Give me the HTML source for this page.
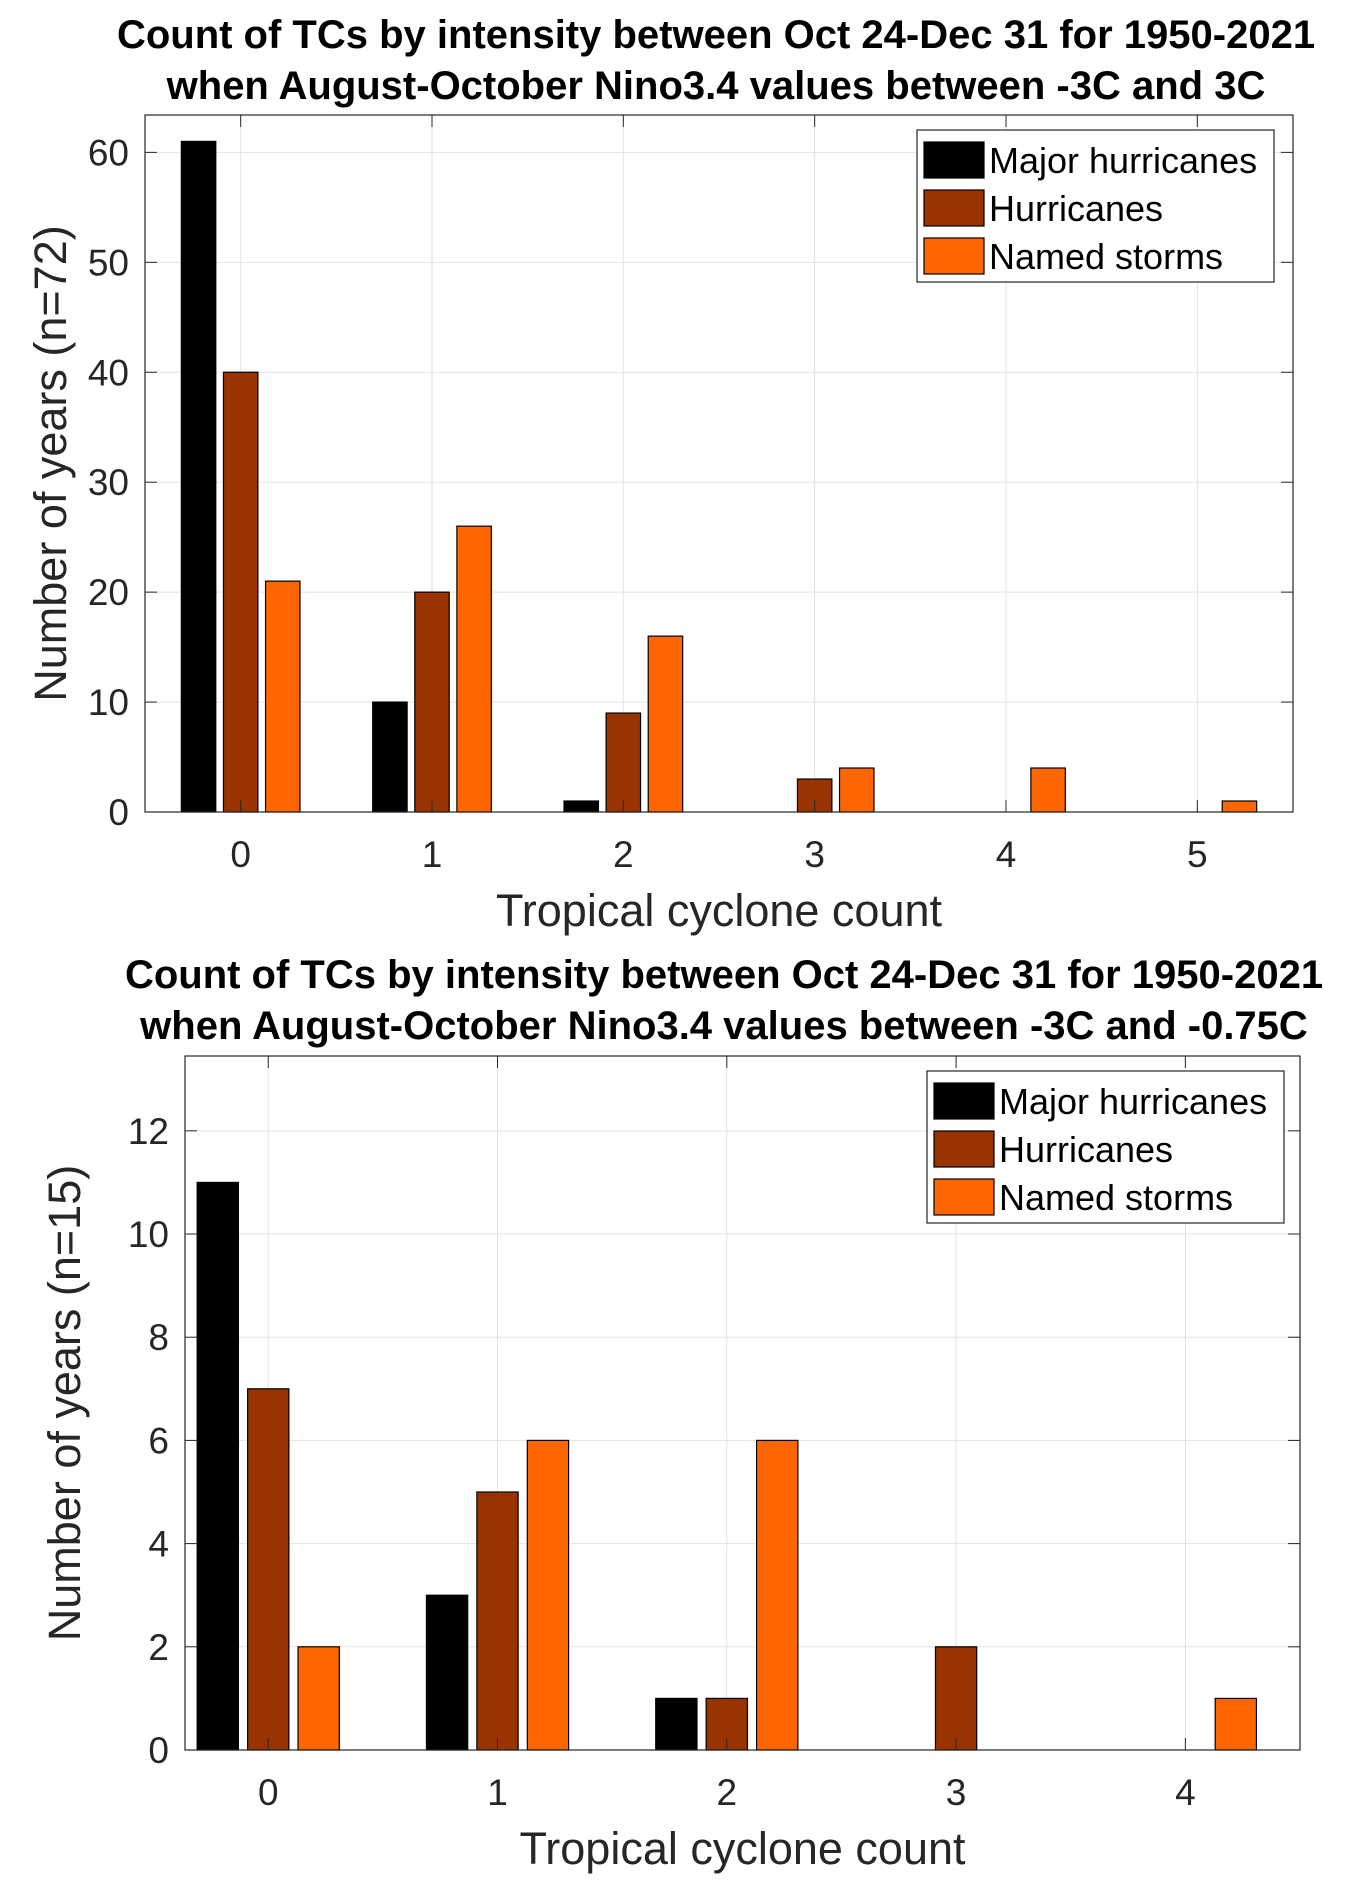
<!DOCTYPE html>
<html><head><meta charset="utf-8"><style>body{margin:0;background:#fff}svg{display:block}text{font-family:"Liberation Sans",Arial,sans-serif;fill:#262626}</style></head>
<body>
<svg id="s" width="1369" height="1897" viewBox="0 0 1369 1897"></svg>
<script>
const cats1 = [0,1,2,3,4,5];
const major1 = [61,10,1,0,0,0];
const hurr1 = [40,20,9,3,0,0];
const named1 = [21,26,16,4,4,1];
const yticks1 = [0,10,20,30,40,50,60];
const cats2 = [0,1,2,3,4];
const major2 = [11,3,1,0,0];
const hurr2 = [7,5,1,2,0];
const named2 = [2,6,6,0,1];
const yticks2 = [0,2,4,6,8,10,12];
const seriesNames = ["Major hurricanes","Hurricanes","Named storms"];
const colors = ["#000000","#993300","#ff6600"];
const NS="http://www.w3.org/2000/svg";
const svg=document.getElementById('s');
function mk(t,a,p){const e=document.createElementNS(NS,t);for(const k in a)e.setAttribute(k,a[k]);(p||svg).appendChild(e);return e;}
function chart(o){
  const g=mk('g',{});
  
  
  const X=v=>o.L+(v-o.x0)/(o.x1-o.x0)*(o.R-o.L);
  const Y=v=>o.B-(v)/(o.ymax)*(o.B-o.T);
  mk('rect',{x:o.L,y:o.T,width:o.R-o.L,height:o.B-o.T,fill:'#fff'},g);
  o.cats.forEach(c=>{mk('line',{x1:X(c),x2:X(c),y1:o.T,y2:o.B,stroke:'#e3e3e3','stroke-width':1},g);});
  o.yt.forEach(v=>{mk('line',{x1:o.L,x2:o.R,y1:Y(v),y2:Y(v),stroke:'#e3e3e3','stroke-width':1},g);});
  const data=[o.major,o.hurr,o.named];
  const off=[-0.22,0,0.22], bw=0.18;
  data.forEach((arr,si)=>{arr.forEach((v,i)=>{
    if(v<=0)return;
    const r=mk('rect',{x:X(o.cats[i]+off[si]-bw/2),y:Y(v),width:X(bw)-X(0),height:Y(0)-Y(v),fill:colors[si],stroke:'#000','stroke-width':1.2},g);
    
    
  });});
  mk('rect',{x:o.L,y:o.T,width:o.R-o.L,height:o.B-o.T,fill:'none',stroke:'#262626','stroke-width':1.2},g);
  o.cats.forEach(c=>{
    mk('line',{x1:X(c),x2:X(c),y1:o.B,y2:o.B-12,stroke:'#262626'},g);
    mk('line',{x1:X(c),x2:X(c),y1:o.T,y2:o.T+12,stroke:'#262626'},g);
    const t=mk('text',{x:X(c),y:o.B+55,'text-anchor':'middle','font-size':37},g);t.textContent=c;
    
  });
  o.yt.forEach(v=>{
    mk('line',{x1:o.L,x2:o.L+12,y1:Y(v),y2:Y(v),stroke:'#262626'},g);
    mk('line',{x1:o.R,x2:o.R-12,y1:Y(v),y2:Y(v),stroke:'#262626'},g);
    const t=mk('text',{x:o.L-16,y:Y(v)+13,'text-anchor':'end','font-size':37},g);t.textContent=v;
    
  });
  o.title.forEach((s,i)=>{const t=mk('text',{x:o.tx,y:o.ty+i*51,'text-anchor':'middle','font-size':40,'font-weight':'bold',style:'fill:#000'},g);t.textContent=s;
    });
  const xl=mk('text',{x:(o.L+o.R)/2,y:o.B+114,'text-anchor':'middle','font-size':45},g);xl.textContent='Tropical cyclone count';
  
  const yl=mk('text',{x:0,y:0,'text-anchor':'middle','font-size':45,transform:`translate(${o.ylx},${(o.T+o.B)/2}) rotate(-90)`},g);yl.textContent=o.ylabel;
  
  const lg=mk('g',{},g);
  
  mk('rect',{x:o.lx,y:o.ly,width:357,height:152,fill:'#fff',stroke:'#262626','stroke-width':1.2},lg);
  seriesNames.forEach((n,i)=>{
    const e=mk('g',{},lg);
    
    mk('rect',{x:o.lx+7,y:o.ly+12+i*48,width:60,height:36,fill:colors[i],stroke:'#000','stroke-width':1.2},e);
    const t=mk('text',{x:o.lx+72,y:o.ly+43+i*48,'font-size':36,style:'fill:#000'},e);t.textContent=n;
  });
}
chart({name:'chart-all-years',L:145,R:1293,T:115,B:812,x0:-0.5,x1:5.5,ymax:63.4,cats:cats1,major:major1,hurr:hurr1,named:named1,yt:yticks1,
  title:['Count of TCs by intensity between Oct 24-Dec 31 for 1950-2021','when August-October Nino3.4 values between -3C and 3C'],tx:716,ty:48,
  ylabel:'Number of years (n=72)',ylx:66,lx:917,ly:130});
chart({name:'chart-la-nina',L:185,R:1300,T:1056,B:1750,x0:-0.363,x1:4.5,ymax:13.45,cats:cats2,major:major2,hurr:hurr2,named:named2,yt:yticks2,
  title:['Count of TCs by intensity between Oct 24-Dec 31 for 1950-2021','when August-October Nino3.4 values between -3C and -0.75C'],tx:724,ty:988,
  ylabel:'Number of years (n=15)',ylx:80,lx:927,ly:1071});
</script>
</body></html>
